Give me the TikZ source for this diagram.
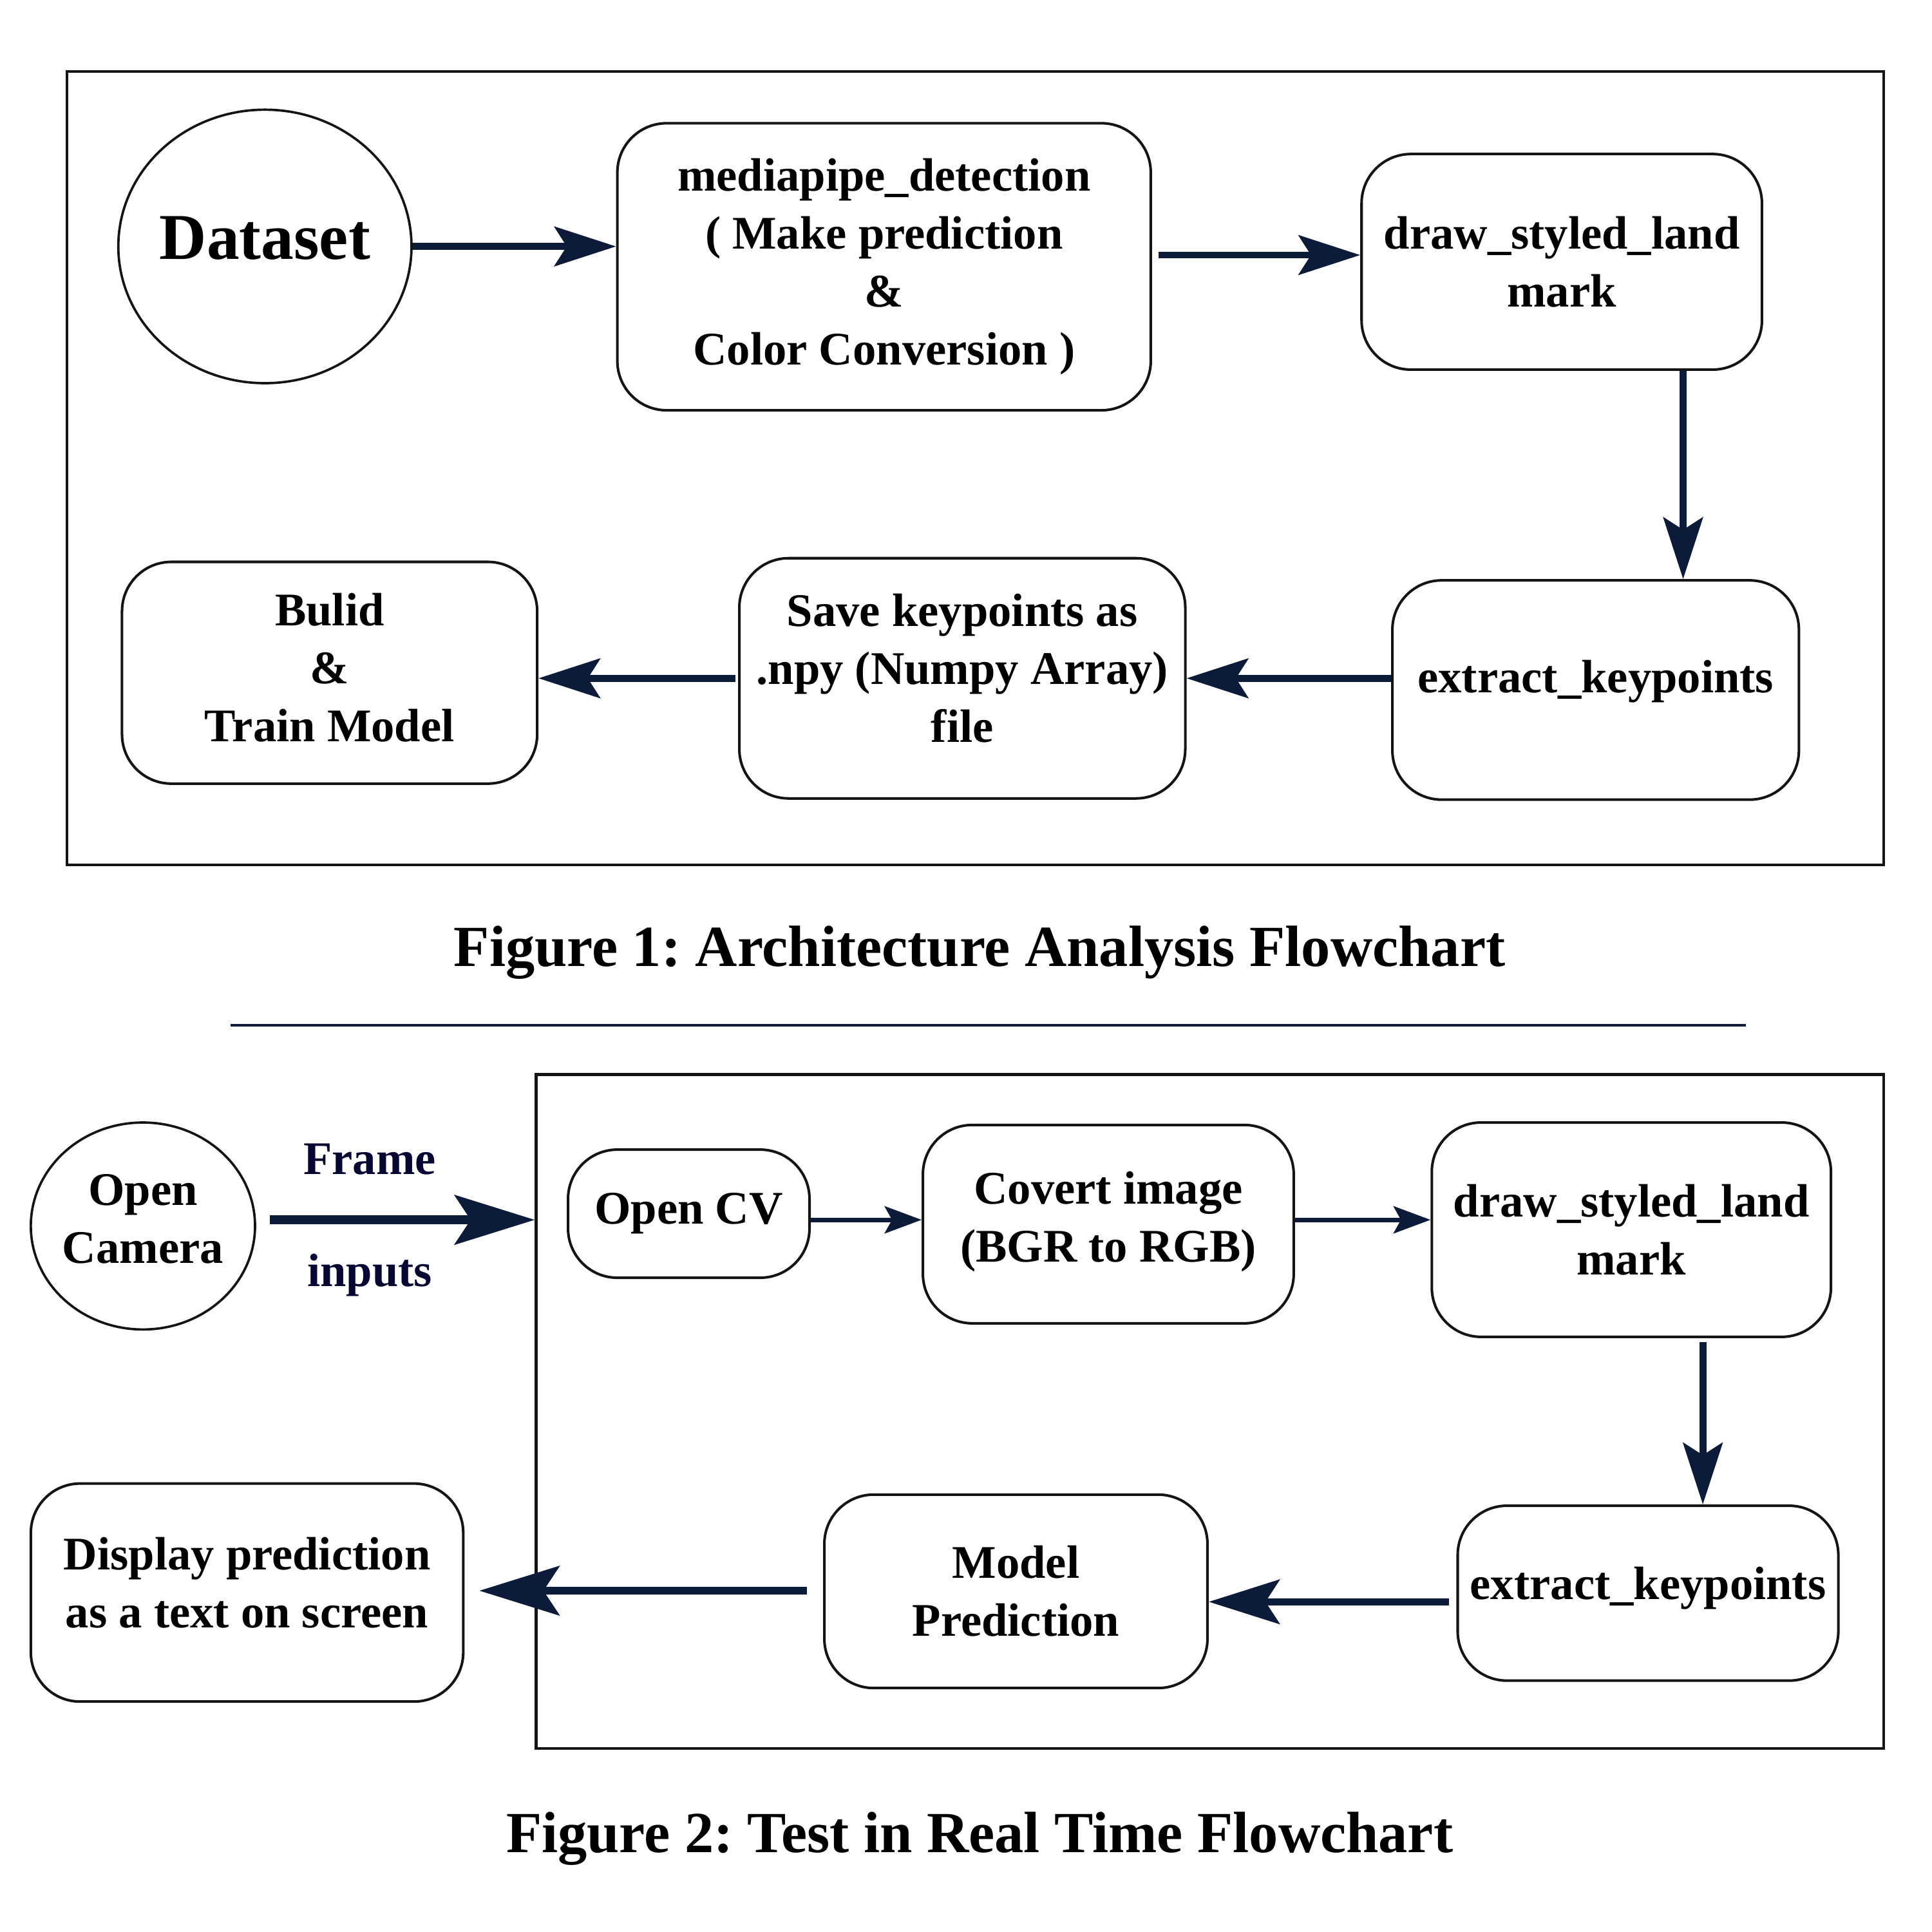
\documentclass[tikz,border=0pt]{standalone}
\usepackage{fontspec}
\setmainfont{Liberation Serif}
\usetikzlibrary{arrows.meta, shapes.geometric}
\frenchspacing

\definecolor{arrownavy}{HTML}{0C1B3A}
\definecolor{labelnavy}{HTML}{070733}

\begin{document}
\begin{tikzpicture}[
  x=0.02cm, y=-0.02cm,
  txt/.style={font=\bfseries\fontsize{21.6pt}{26.75pt}\selectfont},
  box/.style={txt, rectangle, draw=black!92, line width=1.2pt, rounded corners=0.8cm, align=center, inner sep=1pt},
  oval/.style={txt, ellipse, draw=black!92, line width=1.1pt, align=center, inner sep=-3pt},
  frame/.style={rectangle, draw=black!92, line width=1.2pt, inner sep=0pt},
  caption/.style={font=\bfseries\fontsize{26.9pt}{32pt}\selectfont},
  lbl/.style={txt, text=labelnavy},
  arrow/.style={-{Stealth[length=1cm, width=0.64cm, inset=0.2cm]}, line width=3.2pt, draw=arrownavy},
  thinarrow/.style={-{Stealth[length=0.6cm, width=0.44cm, inset=0.12cm]}, line width=2pt, draw=arrownavy},
  bigarrow/.style={-{Stealth[length=1.3cm, width=0.8cm, inset=0.26cm]}, line width=4pt, draw=arrownavy},
]
\useasboundingbox (0,0) rectangle (1568,1568);

% Figure 1
\node[frame, minimum width=29.5cm, minimum height=12.88cm] (archframe) at (791.5,380) {};

\node[oval, minimum width=4.76cm, minimum height=4.44cm, text depth=0.28cm, font=\bfseries\fontsize{30.2pt}{36pt}\selectfont] (dataset) at (215,200) {Dataset};
\node[box, minimum width=8.66cm, minimum height=4.66cm] (media) at (717.5,216.5) {mediapipe\_detection \\ ( Make prediction \\ \& \\ Color Conversion )};
\node[box, minimum width=6.5cm, minimum height=3.5cm] (drawone) at (1267.5,212.5) {draw\_styled\_land \\ mark};
\node[box, minimum width=6.6cm, minimum height=3.56cm, text depth=0.44cm] (extractone) at (1295,560) {extract\_keypoints};
\node[box, minimum width=7.24cm, minimum height=3.9cm, text depth=0.34cm] (save) at (781,550.5) {Save keypoints as \\ .npy (Numpy Array) \\ file};
\node[box, minimum width=6.74cm, minimum height=3.6cm, text depth=0.18cm] (build) at (267.5,546) {Bulid \\ \& \\ Train Model};

\node[caption] (capone) at (795,773) {Figure 1: Architecture Analysis Flowchart};

% Connections
\draw[arrow] (dataset.east) -- (dataset.east -| media.west);
\draw[arrow, shorten <=0.1cm] (media.east |- 0,207) -- (drawone.west |- 0,207);
\draw[arrow] (drawone.south -| 1366,0) -- (extractone.north -| 1366,0);
\draw[arrow] (extractone.west |- save.east) -- (save.east);
\draw[arrow, shorten <=0.04cm] (save.west) -- (save.west -| build.east);

% separator
\draw[draw=arrownavy, line width=1.3pt] (187,832) -- (1417,832);

% Figure 2
\node[frame, minimum width=21.88cm, minimum height=10.94cm] (testframe) at (982,1145.5) {};

\node[oval, minimum width=3.64cm, minimum height=3.36cm, text depth=0.24cm] (camera) at (116,995) {Open \\ Camera};
\node[box, minimum width=3.92cm, minimum height=2.08cm] (opencv) at (559,985) {Open CV};
\node[box, minimum width=6.02cm, minimum height=3.22cm, text depth=0.24cm] (covert) at (899.5,993.5) {Covert image \\ (BGR to RGB)};
\node[box, minimum width=6.48cm, minimum height=3.48cm] (drawtwo) at (1324,998) {draw\_styled\_land \\ mark};
\node[box, minimum width=6.18cm, minimum height=2.84cm, text depth=0.32cm] (extracttwo) at (1337.5,1293) {extract\_keypoints};
\node[box, minimum width=6.22cm, minimum height=3.14cm] (model) at (824.5,1291.5) {Model \\ Prediction};
\node[box, minimum width=7.02cm, minimum height=3.54cm, text depth=0.32cm] (display) at (200.5,1292.5) {Display prediction \\ as a text on screen};

\node[lbl] (framelbl) at (300,941) {Frame};
\node[lbl] (inputslbl) at (300,1035) {inputs};

\node[caption] (captwo) at (795,1492) {Figure 2: Test in Real Time Flowchart};

% Connections
\draw[bigarrow, shorten <=0.22cm] (camera.east |- 0,990) -- (testframe.west |- 0,990);
\draw[thinarrow] (opencv.east |- 0,990) -- (covert.west |- 0,990);
\draw[thinarrow] (covert.east |- 0,990) -- (drawtwo.west |- 0,990);
\draw[arrow, shorten <=0.06cm] (drawtwo.south -| 1382,0) -- (extracttwo.north -| 1382,0);
\draw[arrow, shorten <=0.12cm, -{Stealth[length=1.15cm, width=0.72cm, inset=0.23cm]}] (extracttwo.west |- 0,1300) -- (model.east |- 0,1300);
\draw[bigarrow, line width=3.6pt, shorten <=0.26cm, shorten >=0.24cm] (model.west |- 0,1291) -- (display.east |- 0,1291);

\end{tikzpicture}
\end{document}
